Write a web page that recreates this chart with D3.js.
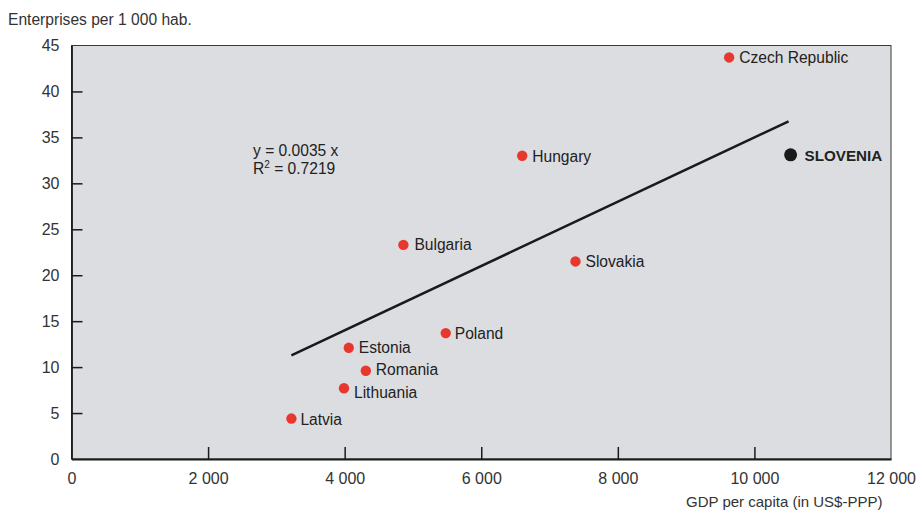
<!DOCTYPE html>
<html>
<head>
<meta charset="utf-8">
<script src="https://cdn.jsdelivr.net/npm/d3@7"></script>
<style>
  html, body { margin: 0; padding: 0; background: #fff; }
  svg text { font-family: "Liberation Sans", Arial, sans-serif; }
</style>
</head>
<body>
<svg id="chart" width="919" height="510"></svg>
<script>
// Countries and their GDP per capita (US$-PPP) / enterprises per 1 000 inhabitants
const countries = ["Latvia", "Lithuania", "Romania", "Estonia", "Poland", "Bulgaria", "Hungary", "Slovakia", "Czech Republic", "SLOVENIA"];
const gdpPerCapita = [3220, 3990, 4310, 4060, 5480, 4860, 6600, 7380, 9630, 10530];
const enterprises = [4.4, 7.7, 9.6, 12.1, 13.7, 23.3, 33.0, 21.5, 43.7, 33.1];
// label offsets (dx, dy of baseline from point)
const labelDx = [9, 10, 10, 10, 9, 11, 10, 10, 10, 14];
const labelDy = [6, 10, 4.5, 5, 6, 5, 6.5, 5.5, 5.5, 6.5];

const xTicks = [0, 2000, 4000, 6000, 8000, 10000, 12000];
const yTicks = [0, 5, 10, 15, 20, 25, 30, 35, 40, 45];

// Trend line y = slope * x, R²
const trendSlope = 0.0035;
const trendR2 = 0.7219;
const trendXRange = [3220, 10500];

const svg = d3.select("#chart");
const margin = { left: 71.5, right: 28, top: 45.5, bottom: 51 };
const W = 919, H = 510;

const x = d3.scaleLinear().domain([0, 12000]).range([margin.left, W - margin.right]);
const y = d3.scaleLinear().domain([0, 45]).range([H - margin.bottom, margin.top]);

const fmt = d => d3.format(",")(d).replace(/,/g, " ");

// plot background with thin border
svg.append("rect")
  .attr("x", x(0)).attr("y", y(45))
  .attr("width", x(12000) - x(0)).attr("height", y(0) - y(45))
  .attr("fill", "#dcdde0")
  .attr("stroke", "#3a3a3a").attr("stroke-width", 1);

// x axis: inward ticks
const xAxis = svg.append("g").attr("transform", `translate(0,${y(0)})`)
  .call(d3.axisBottom(x).tickValues(xTicks).tickFormat(fmt).tickSize(0).tickPadding(14));
xAxis.select(".domain").attr("stroke", "#1a1a1a").attr("stroke-width", 1.8);
xAxis.selectAll(".tick text").attr("font-size", 16).attr("fill", "#333");
xAxis.selectAll(".tick").filter(d => d > 0 && d < 12000)
  .append("line").attr("y1", 0).attr("y2", -12).attr("stroke", "#1a1a1a").attr("stroke-width", 1.5);

// y axis: inward ticks
const yAxis = svg.append("g").attr("transform", `translate(${x(0)},0)`)
  .call(d3.axisLeft(y).tickValues(yTicks).tickSize(0).tickPadding(12));
yAxis.select(".domain").attr("stroke", "#1a1a1a").attr("stroke-width", 1.8);
yAxis.selectAll(".tick text").attr("font-size", 16).attr("fill", "#333");
yAxis.selectAll(".tick").filter(d => d > 0 && d < 45)
  .append("line").attr("x1", 0).attr("x2", 11).attr("stroke", "#1a1a1a").attr("stroke-width", 1.5);

// axis titles
svg.append("text").attr("x", 8).attr("y", 25)
  .attr("font-size", 15.6).attr("fill", "#333")
  .text("Enterprises per 1 000 hab.");
svg.append("text").attr("x", 686).attr("y", 507)
  .attr("font-size", 15).attr("fill", "#333")
  .text("GDP per capita (in US$-PPP)");

// trend line
svg.append("line")
  .attr("x1", x(trendXRange[0])).attr("y1", y(trendSlope * trendXRange[0]))
  .attr("x2", x(trendXRange[1])).attr("y2", y(trendSlope * trendXRange[1]))
  .attr("stroke", "#1a1a1a").attr("stroke-width", 2.6);

// equation
const eq = svg.append("text").attr("x", 253).attr("font-size", 15.6).attr("fill", "#222");
eq.append("tspan").attr("x", 253).attr("y", 156).text(`y = ${trendSlope} x`);
const r2 = svg.append("text").attr("x", 253).attr("y", 174).attr("font-size", 15.6).attr("fill", "#222");
r2.append("tspan").text("R");
r2.append("tspan").attr("font-size", 10).attr("dy", -6).text("2");
r2.append("tspan").attr("dy", 6).text(` = ${trendR2}`);

// points
const data = countries.map((c, i) => ({ name: c, gdp: gdpPerCapita[i], ent: enterprises[i], dx: labelDx[i], dy: labelDy[i], hl: c === "SLOVENIA" }));

const pts = svg.append("g").selectAll("g").data(data).join("g")
  .attr("transform", d => `translate(${x(d.gdp)},${y(d.ent)})`);
pts.append("circle")
  .attr("r", d => d.hl ? 6.5 : 5.2)
  .attr("fill", d => d.hl ? "#1a1a1a" : "#e8372f");
pts.append("text")
  .attr("x", d => d.dx).attr("y", d => d.dy)
  .attr("font-size", d => d.hl ? 15.2 : 15.6)
  .attr("font-weight", d => d.hl ? "bold" : "normal")
  .attr("fill", "#222")
  .text(d => d.name);
</script>
</body>
</html>
